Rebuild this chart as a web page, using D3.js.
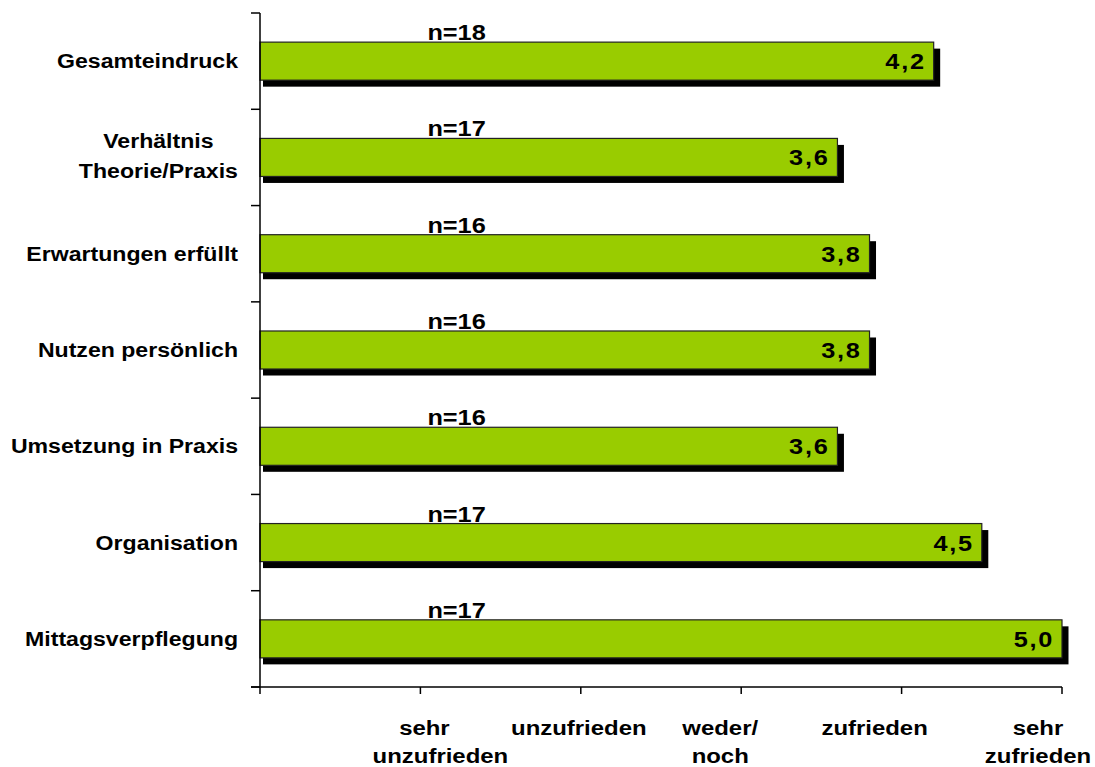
<!DOCTYPE html>
<html>
<head>
<meta charset="utf-8">
<script src="https://cdn.jsdelivr.net/npm/d3@7"></script>
<style>
  html, body { margin: 0; padding: 0; background: #fff; }
  svg { display: block; }
  text { font-family: "Liberation Sans", Arial, sans-serif; font-weight: bold; fill: #000; }
</style>
</head>
<body>
<svg id="chart" width="1095" height="767"></svg>
<script>
// ---- data ----
const categories = ["Gesamteindruck", "Verhältnis\nTheorie/Praxis", "Erwartungen erfüllt", "Nutzen persönlich", "Umsetzung in Praxis", "Organisation", "Mittagsverpflegung"];
const values = [4.2, 3.6, 3.8, 3.8, 3.6, 4.5, 5.0];
const counts = [18, 17, 16, 16, 16, 17, 17];
const tickValues = [0, 1, 2, 3, 4, 5];
const tickLabels = ["", "sehr\nunzufrieden", "unzufrieden", "weder/\nnoch", "zufrieden", "sehr\nzufrieden"];

// ---- layout ----
const plot = { left: 260, right: 1062, top: 13, bottom: 687 };
// horizontal offsets (px) of each axis label line relative to its tick
const labelLineOffsets = [[0], [4, 20], [-2], [-21, -21], [-27], [-24, -24]];
const SX = 1.1; // horizontal stretch of the text, as in the original

const svg = d3.select("#chart");

const x = d3.scaleLinear().domain([0, 5]).range([plot.left, plot.right]);
const y = d3.scaleBand().domain(categories).range([plot.top, plot.bottom]).padding(0);
const barH = y.bandwidth() * 0.395;

const data = categories.map((c, i) => ({ cat: c, value: values[i], n: counts[i] }));

function addText(parent, tx, ty, str, size, anchor, sx) {
  const g = parent.append("g").attr("transform", `translate(${tx},${ty}) scale(${sx},1)`);
  return g.append("text")
    .attr("x", 0).attr("y", 0)
    .attr("text-anchor", anchor)
    .style("font-size", size + "px")
    .text(str);
}

// shadows
svg.append("g").selectAll("rect").data(data).join("rect")
  .attr("x", x(0) + 3)
  .attr("y", d => y(d.cat) + (y.bandwidth() - barH) / 2 + 6.5)
  .attr("width", d => x(d.value) - x(0) + 3.5)
  .attr("height", barH)
  .attr("fill", "#000");

// bars
svg.append("g").selectAll("rect").data(data).join("rect")
  .attr("x", x(0))
  .attr("y", d => y(d.cat) + (y.bandwidth() - barH) / 2)
  .attr("width", d => x(d.value) - x(0))
  .attr("height", barH)
  .attr("fill", "#99CC00")
  .attr("stroke", "#222")
  .attr("stroke-width", 1.2);

// y axis
const yAxisG = svg.append("g");
yAxisG.append("line")
  .attr("x1", plot.left).attr("x2", plot.left)
  .attr("y1", plot.top).attr("y2", plot.bottom)
  .attr("stroke", "#000").attr("stroke-width", 1.5);
const yTicks = categories.map(c => y(c)).concat([plot.bottom]);
yAxisG.selectAll("line.tick").data(yTicks).join("line")
  .attr("class", "tick")
  .attr("x1", plot.left - 9).attr("x2", plot.left)
  .attr("y1", d => d).attr("y2", d => d)
  .attr("stroke", "#000").attr("stroke-width", 1.5);

// x axis
const xAxisG = svg.append("g");
xAxisG.append("line")
  .attr("x1", plot.left - 9).attr("x2", plot.right)
  .attr("y1", plot.bottom).attr("y2", plot.bottom)
  .attr("stroke", "#000").attr("stroke-width", 1.5);
xAxisG.selectAll("line.tick").data(tickValues).join("line")
  .attr("class", "tick")
  .attr("x1", d => x(d)).attr("x2", d => x(d))
  .attr("y1", plot.bottom).attr("y2", plot.bottom + 7)
  .attr("stroke", "#000").attr("stroke-width", 1.5);

// x axis labels
tickValues.forEach((t, i) => {
  const lines = tickLabels[i].split("\n").filter(s => s.length);
  lines.forEach((ln, j) => {
    addText(svg, x(t) + labelLineOffsets[i][j], 735 + j * 28, ln, 21, "middle", 1.14);
  });
});

// category labels
data.forEach(d => {
  const lines = d.cat.split("\n");
  const cy = y(d.cat) + y.bandwidth() / 2;
  if (lines.length === 1) {
    addText(svg, 238, cy + 7, lines[0], 21, "end", SX);
  } else {
    const tmp = lines.map(ln => svg.append("text").style("font-size", "21px").text(ln));
    const maxW = d3.max(tmp, t => t.node().getComputedTextLength()) * SX;
    tmp.forEach(t => t.remove());
    const cx = 238 - maxW / 2;
    lines.forEach((ln, j) => {
      addText(svg, cx, cy - 9.5 + j * 30, ln, 21, "middle", SX);
    });
  }
});

// n labels
data.forEach(d => {
  addText(svg, x(1) + 7, y(d.cat) + (y.bandwidth() - barH) / 2 - 2, "n=" + d.n, 22, "start", 1.15);
});

// value labels
data.forEach(d => {
  const t = addText(svg, x(d.value) - 8, y(d.cat) + y.bandwidth() / 2 + 8, d3.format(".1f")(d.value).replace(".", ","), 22, "end", 1.15);
  t.style("letter-spacing", "1.5px");
});
</script>
</body>
</html>
